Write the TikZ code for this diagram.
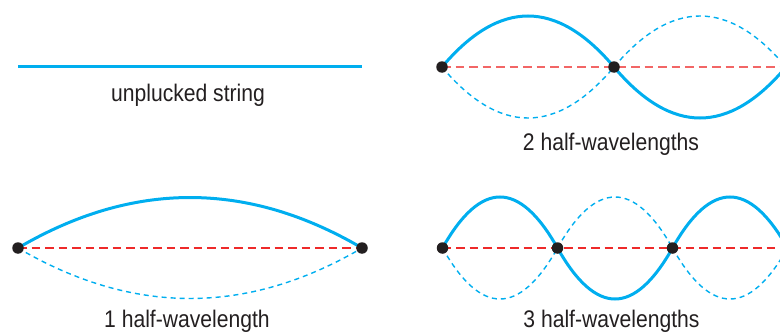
\documentclass[tikz,border=0pt]{standalone}
\usepackage{fontspec}
\setmainfont[FakeStretch=0.88]{Liberation Sans}
\usetikzlibrary{backgrounds}
\definecolor{wblue}{HTML}{00AEEF}
\definecolor{wred}{HTML}{EE2A2A}
\definecolor{wredl}{HTML}{F26666}
\definecolor{txt}{HTML}{231F20}
\tikzset{
  dot/.style={circle,fill=txt,inner sep=0pt,minimum size=11.5pt},
  solidwave/.style={draw=wblue,line width=3pt},
  dashwave/.style={draw=wblue,line width=1.4pt,dash pattern=on 5pt off 4pt},
  axisline/.style={draw=wred,line width=2pt,dash pattern=on 8.5pt off 5pt},
  axislinel/.style={draw=wredl,line width=2pt,dash pattern=on 8.5pt off 5pt},
  lbl/.style={anchor=base,font=\fontsize{24}{24}\selectfont,text=txt,inner sep=0pt}
}
\begin{document}
\begin{tikzpicture}[x=1pt,y=1pt]
\useasboundingbox (0,0) rectangle (780,333);
\clip (0,0) rectangle (780,333);
% unplucked
\coordinate (u1) at (18,266.5);
\coordinate (u2) at (362,266.5);
\draw[solidwave] (u1) -- (u2);
\node[lbl] (lu) at (188,232) {unplucked string};
% 1 half-wavelength
\node[dot] (a1) at (18,85) {};
\node[dot] (a2) at (362,85) {};
\node[lbl] (la) at (187,6) {1 half-wavelength};
% 2 half-wavelengths
\node[dot] (b1) at (442,266) {};
\node[dot] (b2) at (614,266) {};
\coordinate (b3) at (786,266);
\node[lbl] (lb) at (611,183) {2 half-wavelengths};
% 3 half-wavelengths
\node[dot] (c1) at (442.5,85) {};
\node[dot] (c2) at (557.5,85) {};
\node[dot] (c3) at (672.5,85) {};
\coordinate (c4) at (787.5,85);
\node[lbl] (lc) at (611.5,6) {3 half-wavelengths};
\begin{scope}[on background layer]
% 1 half
\draw[axisline] (a1.center) -- (a2.center);
\draw[solidwave] (a1.center) .. controls +(114.7,67.3) and +(-114.7,67.3) .. (a2.center);
\draw[dashwave] (a1.center) .. controls +(114.7,-67.3) and +(-114.7,-67.3) .. (a2.center);
% 2 half
\draw[axislinel] (b1.center) -- (b3);
\draw[solidwave] (b1.center) .. controls +(57.3,68) and +(-57.3,68) .. (b2.center);
\draw[dashwave] (b1.center) .. controls +(57.3,-68) and +(-57.3,-68) .. (b2.center);
\draw[solidwave] (b2.center) .. controls +(57.3,-68) and +(-57.3,-68) .. (b3);
\draw[dashwave] (b2.center) .. controls +(57.3,68) and +(-57.3,68) .. (b3);
% 3 half
\draw[axisline] (c1.center) -- (c4);
\draw[solidwave] (c1.center) .. controls +(38.3,68) and +(-38.3,68) .. (c2.center);
\draw[dashwave] (c1.center) .. controls +(38.3,-68) and +(-38.3,-68) .. (c2.center);
\draw[solidwave] (c2.center) .. controls +(38.3,-68) and +(-38.3,-68) .. (c3.center);
\draw[dashwave] (c2.center) .. controls +(38.3,68) and +(-38.3,68) .. (c3.center);
\draw[solidwave] (c3.center) .. controls +(38.3,68) and +(-38.3,68) .. (c4);
\draw[dashwave] (c3.center) .. controls +(38.3,-68) and +(-38.3,-68) .. (c4);
\end{scope}
\end{tikzpicture}
\end{document}
